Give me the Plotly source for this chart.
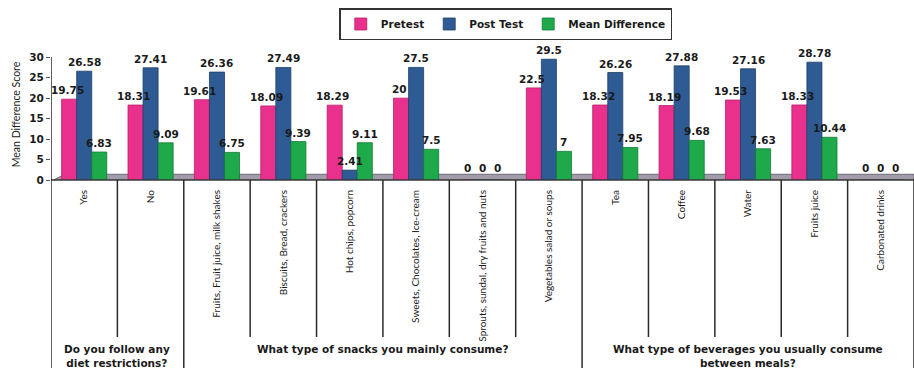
import plotly.graph_objects as go

# Survey categories and scores
categories = [
    "Yes", "No",
    "Fruits, Fruit juice, milk shakes", "Biscuits, Bread, crackers",
    "Hot chips, popcorn", "Sweets, Chocolates, Ice-cream",
    "Sprouts, sundal, dry fruits and nuts", "Vegetables salad or soups",
    "Tea", "Coffee", "Water", "Fruits juice", "Carbonated drinks",
]
pretest = [19.75, 18.31, 19.61, 18.09, 18.29, 20, 0, 22.5, 18.32, 18.19, 19.53, 18.33, 0]
post_test = [26.58, 27.41, 26.36, 27.49, 2.41, 27.5, 0, 29.5, 26.26, 27.88, 27.16, 28.78, 0]
mean_diff = [6.83, 9.09, 6.75, 9.39, 9.11, 7.5, 0, 7, 7.95, 9.68, 7.63, 10.44, 0]

groups = [
    "Do you follow any<br>diet restrictions?",
    "What type of snacks you mainly consume?",
    "What type of beverages you usually consume<br>between meals?",
]
group_sizes = [2, 6, 5]

series = [
    ("Pretest", pretest, "#E8308C", "#B81E68"),
    ("Post Test", post_test, "#2F5B95", "#1E3E6A"),
    ("Mean Difference", mean_diff, "#1EAA4B", "#127A33"),
]

W, H = 914, 368
M_L, M_R, M_T, M_B = 51, 0, 49, 188
plot_h = H - M_T - M_B
plot_w = W - M_L - M_R
Y_MAX = 32
BARGAP = 0.32

n = len(categories)
bar_px = plot_w / n * (1 - BARGAP) / len(series)

fig = go.Figure()
for name, vals, color, edge in series:
    fig.add_trace(go.Bar(
        name=name, x=categories, y=vals,
        marker=dict(color=color, line=dict(color=edge, width=0.8)),
    ))

# value labels drawn above every bar, on top of all bars
annotations = []
for k, (name, vals, color, edge) in enumerate(series):
    shift = (k - (len(series) - 1) / 2) * bar_px
    for cat, v in zip(categories, vals):
        annotations.append(dict(
            x=cat, y=v, xref="x", yref="y", text=f"{v:g}",
            showarrow=False, xanchor="center", yanchor="bottom",
            xshift=shift - (2 if k == 0 and v else 0), yshift=1 if v else 4,
            font=dict(family="DejaVu Sans", size=10.5, color="#1a1a1a", weight="bold"),
        ))

def px_to_paper(py):
    """Convert a pixel row (from figure top) to a paper y fraction."""
    return (H - M_B - py) / plot_h

shapes = []
# grey 3D floor behind the bars
shapes.append(dict(type="path", xref="x domain", yref="y",
                   path="M 0.003,0 L 0.016,1.4 L 1,1.4 L 1,0 Z",
                   fillcolor="#A29CAA", line=dict(color="#6E6A74", width=1),
                   layer="below"))
# baseline of the table
shapes.append(dict(type="line", xref="paper", yref="paper", x0=0, x1=1,
                   y0=0, y1=0, line=dict(color="#3a3a3a", width=1.5)))

# per-category dividers and group dividers
bounds = []
start = 0
for s in group_sizes:
    bounds.append(start)
    start += s
bounds.append(start)
for i in range(1, n):
    if i in bounds:
        continue
    shapes.append(dict(type="line", xref="x", yref="paper",
                       x0=i - 0.5, x1=i - 0.5, y0=0, y1=px_to_paper(337),
                       line=dict(color="#2a2a2a", width=1.5)))
for b in bounds:
    xv = b - 0.5
    shapes.append(dict(type="line", xref="x", yref="paper",
                       x0=xv, x1=xv, y0=px_to_paper(57) if b == 0 else 0,
                       y1=px_to_paper(H),
                       line=dict(color="#2a2a2a", width=1.5)))

start = 0
for g, s in zip(groups, group_sizes):
    center = start + (s - 1) / 2
    annotations.append(dict(
        x=center, xref="x", y=px_to_paper(341), yref="paper",
        text=g, showarrow=False, xanchor="center", yanchor="top",
        font=dict(family="DejaVu Sans", size=10.5, color="#1a1a1a", weight="bold"),
        align="center",
    ))
    start += s

fig.update_layout(
    width=W, height=H,
    margin=dict(l=M_L, r=M_R, t=M_T, b=M_B, pad=0),
    paper_bgcolor="white", plot_bgcolor="white",
    barmode="group", bargap=BARGAP, bargroupgap=0,
    font=dict(family="DejaVu Sans", color="#1a1a1a"),
    showlegend=True,
    legend=dict(
        orientation="h", x=0.527, xanchor="center",
        y=px_to_paper(8), yanchor="top",
        bordercolor="#333333", borderwidth=1.5, bgcolor="white",
        font=dict(family="DejaVu Sans", size=10.5, color="#1a1a1a", weight="bold"),
        itemwidth=30, traceorder="normal",
    ),
    xaxis=dict(
        type="category", tickangle=-90, showgrid=False, showline=False,
        ticks="outside", ticklen=5, tickcolor="rgba(0,0,0,0)",
        tickfont=dict(family="Lato", size=10, color="#1a1a1a"),
        range=[-0.5, n - 0.5],
    ),
    yaxis=dict(
        range=[0, Y_MAX], tickvals=[0, 5, 10, 15, 20, 25, 30],
        showgrid=False, zeroline=False, showline=False,
        ticks="outside", ticklen=4, tickcolor="#555555",
        tickfont=dict(family="DejaVu Sans", size=10.5, color="#1a1a1a", weight="bold"),
        title=dict(text="Mean Difference Score", standoff=6,
                   font=dict(family="Lato", size=10.5, color="#1a1a1a")),
    ),
    shapes=shapes,
    annotations=annotations,
)

fig.write_html("out.html")
